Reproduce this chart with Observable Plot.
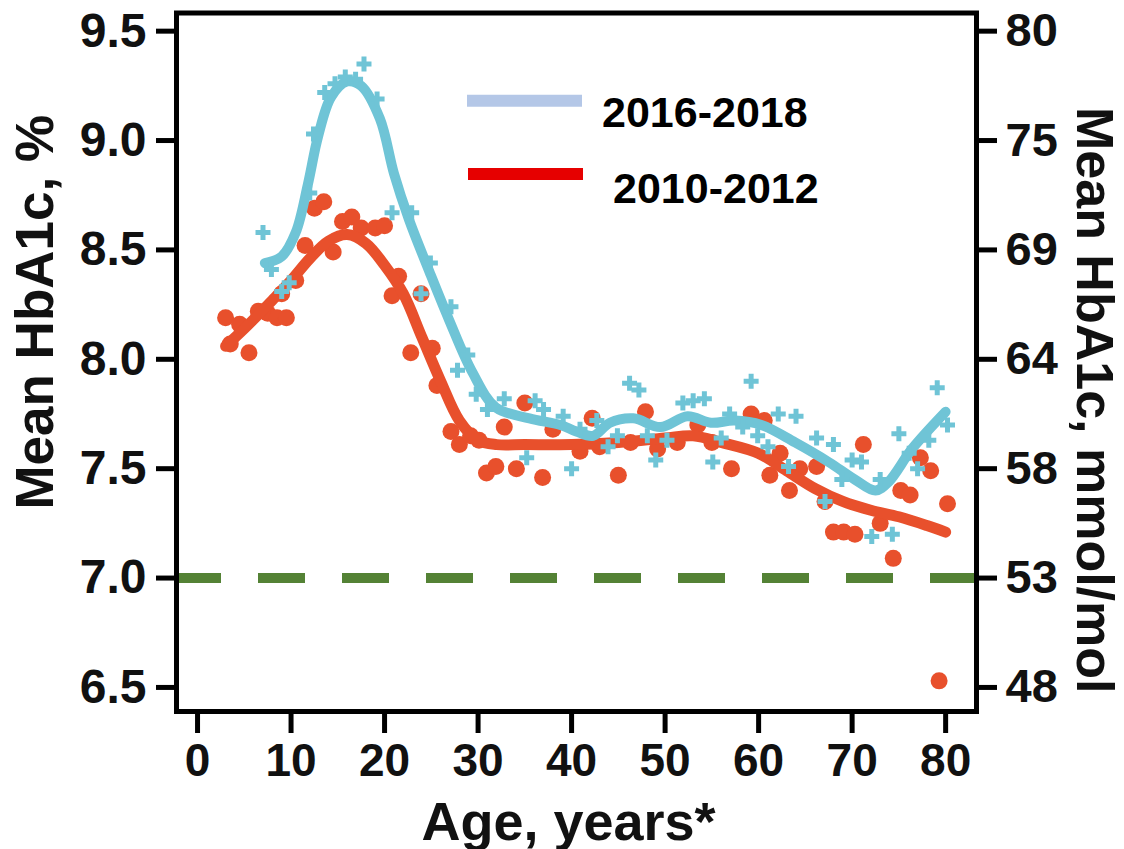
<!DOCTYPE html>
<html>
<head>
<meta charset="utf-8">
<script src="https://cdn.jsdelivr.net/npm/d3@7"></script>
<script src="https://cdn.jsdelivr.net/npm/@observablehq/plot@0.6"></script>
<style>
  html, body { margin: 0; padding: 0; background: #fff; }
  #wrap { position: relative; width: 1124px; height: 849px; }
  #wrap svg text { font-family: "Liberation Sans", Arial, sans-serif; }
  #legend { position: absolute; left: 0; top: 0; pointer-events: none; }
  #legend text { font-family: Lato, "Open Sans", sans-serif; font-weight: 700; }
</style>
</head>
<body>
<div id="wrap"></div>
<script>
// ---- data ----
const seriesNames = ["2016-2018", "2010-2012"];

// 2010-2012 observed means (dots)
const redAges = [3,3.5,4.5,5.5,6.5,7.5,8.5,9.5,9,10.5,11.5,12.5,13.5,14.5,15.5,16.5,17.5,19,20,20.8,21.5,22.8,23.9,25.1,25.6,27.1,28,29.2,30.1,30.9,31.9,32.8,34.1,35,36.9,38,40.9,42.2,43,45,46.3,47.9,49.2,51.3,53.5,55,57.1,59.2,60.6,61.2,62.3,63.3,64.4,66.2,67.1,68,69.1,70.3,71.2,73,74.4,75.2,76.2,77.3,78.4,79.3,80.2];
const redValues = [8.19,8.07,8.16,8.03,8.22,8.21,8.19,8.19,8.3,8.36,8.52,8.69,8.72,8.49,8.63,8.65,8.6,8.6,8.61,8.29,8.38,8.03,8.3,8.05,7.88,7.67,7.61,7.65,7.63,7.48,7.51,7.69,7.5,7.8,7.46,7.68,7.58,7.73,7.6,7.47,7.62,7.76,7.59,7.62,7.7,7.62,7.5,7.75,7.72,7.47,7.57,7.4,7.5,7.51,7.35,7.21,7.21,7.2,7.61,7.25,7.09,7.4,7.38,7.55,7.49,6.53,7.34];

// 2010-2012 smoothed curve
const redFitAges = [3,5,8,10,12,14,16,18,20,22,24,26,28,30,32,35,40,45,50,53,56,60,63,66,69,72,75,78,80];
const redFitValues = [8.06,8.14,8.27,8.36,8.46,8.54,8.57,8.53,8.43,8.3,8.1,7.9,7.72,7.63,7.61,7.61,7.61,7.62,7.64,7.65,7.62,7.57,7.49,7.41,7.35,7.31,7.28,7.24,7.21];

// 2016-2018 observed means (crosses)
const blueAges = [7,7.9,9,9.8,12,12.4,13.6,14.7,15.8,16.9,17.8,19.2,20.8,22.9,23.9,24.9,27.1,27.8,28.9,29.8,31,32.8,35.2,36.1,37,39.1,40,40.9,42.7,43.9,44.9,46.2,47.2,48.1,49,50.2,51.9,53,54.2,55.1,56,56.9,58.3,59.2,59.9,61,62.1,63.2,64,66.2,67.1,68,68.9,70,71,72.1,73,74.3,75,76.1,77,78.2,79.1,80.2];
const blueValues = [8.58,8.41,8.31,8.35,8.76,9.03,9.22,9.26,9.29,9.28,9.35,9.19,8.67,8.67,8.3,8.44,8.24,7.95,8.02,7.84,7.77,7.82,7.55,7.81,7.77,7.74,7.5,7.68,7.72,7.6,7.65,7.89,7.86,7.65,7.54,7.63,7.8,7.81,7.82,7.53,7.64,7.75,7.69,7.9,7.65,7.6,7.75,7.51,7.74,7.64,7.35,7.61,7.45,7.54,7.53,7.19,7.45,7.2,7.66,7.57,7.5,7.63,7.87,7.7];

// 2016-2018 smoothed curve
const blueFitAges = [7.2,9,10.5,11.8,12.9,14.3,16,17.5,19.5,21,22.6,24.8,26.9,29.4,31.9,35.5,38.8,40.5,42.3,44.1,46.6,49.5,52.4,54.9,57.4,60.3,63.9,67.5,70.3,72.5,73.9,76.4,80];
const blueFitValues = [8.44,8.47,8.58,8.8,9.02,9.2,9.27,9.25,9.1,8.85,8.64,8.4,8.18,7.94,7.78,7.73,7.7,7.67,7.65,7.71,7.73,7.69,7.74,7.71,7.72,7.7,7.62,7.53,7.45,7.4,7.44,7.59,7.76];

const targetValue = [7.0];
const xTicks = [0,10,20,30,40,50,60,70,80];
const yTicks = [6.5,7.0,7.5,8.0,8.5,9.0,9.5];
const rightTickLabels = ["48","53","58","64","69","75","80"];

const titles = { y: "Mean HbA1c, %", y2: "Mean HbA1c, mmol/mol", x: "Age, years*" };

// ---- tables ----
const red = redAges.map((a, i) => ({age: a, v: redValues[i]}));
const redFit = redFitAges.map((a, i) => ({age: a, v: redFitValues[i]}));
const blue = blueAges.map((a, i) => ({age: a, v: blueValues[i]}));
const blueFit = blueFitAges.map((a, i) => ({age: a, v: blueFitValues[i]}));
const rightMap = new Map(yTicks.map((t, i) => [t, rightTickLabels[i]]));

const redColor = "#e8502c";
const blueColor = "#6fc4d6";

const chart = Plot.plot({
  width: 1124,
  height: 849,
  marginLeft: 176,
  marginRight: 148,
  marginTop: 12.5,
  marginBottom: 138,
  style: { background: "#fff", overflow: "visible" },
  x: { domain: [-2.25, 83.3] },
  y: { domain: [6.39, 9.583] },
  marks: [
    Plot.ruleY(targetValue, { stroke: "#548235", strokeWidth: 10, strokeDasharray: "47,37", strokeDashoffset: 2 }),
    Plot.dot(red, { x: "age", y: "v", r: 8.5, fill: redColor, stroke: "none" }),
    Plot.line(redFit, { x: "age", y: "v", stroke: redColor, strokeWidth: 11, curve: "catmull-rom", strokeLinecap: "round" }),
    Plot.line(blueFit, { x: "age", y: "v", stroke: blueColor, strokeWidth: 10, curve: "catmull-rom", strokeLinecap: "round" }),
    Plot.dot(blue, { x: "age", y: "v", r: 6.3, symbol: "cross", fill: blueColor, stroke: "none" }),
    Plot.frame({ stroke: "#000", strokeWidth: 5 }),
    Plot.axisY(yTicks, { anchor: "left", tickSize: 20, strokeWidth: 5, tickPadding: 10, fontSize: 48, fontWeight: "bold", tickFormat: d3.format(".1f"), label: null, fill: "#111" }),
    Plot.axisY(yTicks, { anchor: "right", tickSize: 20, strokeWidth: 5, tickPadding: 9, fontSize: 47, fontWeight: "bold", tickFormat: d => rightMap.get(d), label: null, fill: "#111" }),
    Plot.axisX(xTicks, { anchor: "bottom", tickSize: 22, strokeWidth: 5, tickPadding: 10, fontSize: 46, fontWeight: "bold", label: null, fill: "#111" }),
    Plot.text([titles.y], { frameAnchor: "left", textAnchor: "middle", lineAnchor: "middle", dx: -140, dy: -50, rotate: -90, fontSize: 53, fontWeight: "bold", fill: "#111" }),
    Plot.text([titles.y2], { frameAnchor: "right", textAnchor: "middle", lineAnchor: "middle", dx: 117, dy: 38, rotate: 90, fontSize: 52, fontWeight: "bold", fill: "#111" }),
    Plot.text([titles.x], { frameAnchor: "bottom", textAnchor: "middle", lineAnchor: "middle", dx: -8, dy: 111, fontSize: 54, fontWeight: "bold", fill: "#111" })
  ]
});

const wrap = document.getElementById("wrap");
wrap.appendChild(chart);

// ---- legend overlay ----
const legendItems = [
  { name: seriesNames[0], color: "#b4c7e7", x1: 467, x2: 582, y: 100.7, tx: 602, ty: 127 },
  { name: seriesNames[1], color: "#e60000", x1: 468, x2: 583, y: 174, tx: 613, ty: 203 }
];
const leg = d3.select(wrap).append("svg")
  .attr("id", "legend").attr("width", 1124).attr("height", 849);
leg.selectAll("line").data(legendItems).join("line")
  .attr("x1", d => d.x1).attr("x2", d => d.x2)
  .attr("y1", d => d.y).attr("y2", d => d.y)
  .attr("stroke", d => d.color).attr("stroke-width", 12);
leg.selectAll("text").data(legendItems).join("text")
  .attr("x", d => d.tx).attr("y", d => d.ty)
  .attr("font-size", 43).attr("fill", "#000")
  .text(d => d.name);
</script>
</body>
</html>
